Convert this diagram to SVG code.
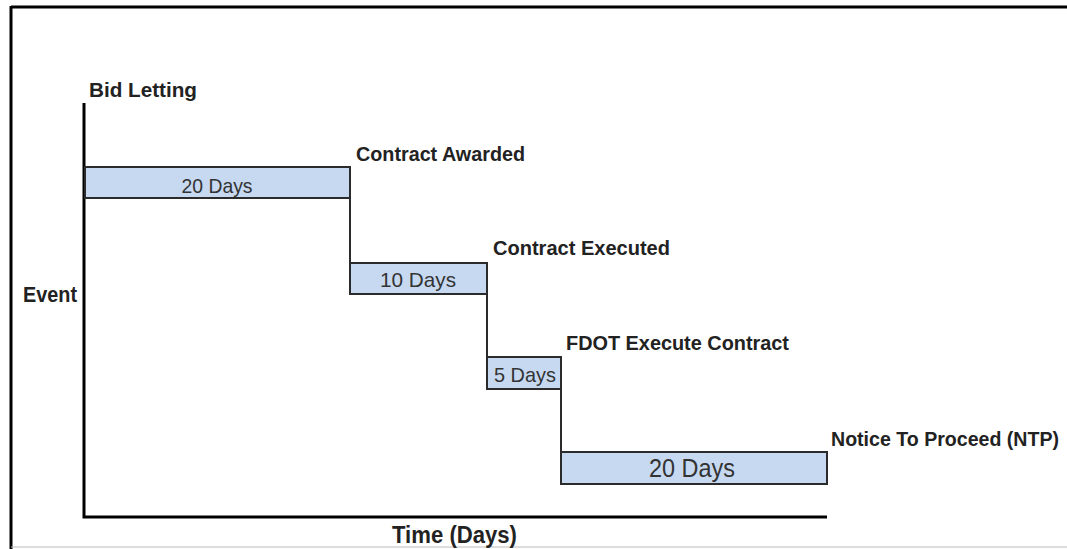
<svg xmlns="http://www.w3.org/2000/svg" width="1067" height="549" viewBox="0 0 1067 549">
<style>
.bar{fill:#c6d9f1;stroke:#2b2b2b;stroke-width:2}
.bt{font-family:"Liberation Sans",Arial,sans-serif;font-size:21px;fill:#333;text-anchor:middle}
.lbl{font-family:"Liberation Sans",Arial,sans-serif;font-size:21px;font-weight:bold;fill:#222}
.conn{stroke:#2b2b2b;stroke-width:2;fill:none}
.axis{stroke:#000;stroke-width:3;fill:none}
</style>
<rect width="1067" height="549" fill="#fff"/>
<g id="frame">
<line x1="11" y1="7" x2="1067" y2="7" stroke="#000" stroke-width="3"/>
<line x1="11" y1="6" x2="11" y2="549" stroke="#000" stroke-width="3"/>
<line x1="11" y1="547" x2="1067" y2="547" stroke="#bbb" stroke-width="1"/>
</g>
<g id="axes">
<path class="axis" d="M84,103 V517 H827"/>
<text class="lbl" x="23" y="302" style="font-size:22px" textLength="54" lengthAdjust="spacingAndGlyphs">Event</text>
<text class="lbl" x="392" y="543" style="font-size:23px" textLength="125" lengthAdjust="spacingAndGlyphs">Time (Days)</text>
</g>
<g id="connectors">
<line class="conn" x1="350" y1="198" x2="350" y2="263"/>
<line class="conn" x1="487" y1="294" x2="487" y2="357"/>
<line class="conn" x1="561" y1="389" x2="561" y2="452"/>
</g>
<g id="bid-letting">
<text class="lbl" x="89" y="97" textLength="108" lengthAdjust="spacingAndGlyphs">Bid Letting</text>
</g>
<g id="bar1">
<rect class="bar" x="85" y="167" width="265" height="31"/>
<text class="bt" x="217" y="193" textLength="71" lengthAdjust="spacingAndGlyphs">20 Days</text>
</g>
<g id="contract-awarded">
<text class="lbl" x="356" y="161" textLength="169" lengthAdjust="spacingAndGlyphs">Contract Awarded</text>
</g>
<g id="bar2">
<rect class="bar" x="350" y="263" width="137" height="31"/>
<text class="bt" x="418" y="287" textLength="76" lengthAdjust="spacingAndGlyphs">10 Days</text>
</g>
<g id="contract-executed">
<text class="lbl" x="493" y="255" textLength="177" lengthAdjust="spacingAndGlyphs">Contract Executed</text>
</g>
<g id="bar3">
<rect class="bar" x="487" y="357" width="74" height="32"/>
<text class="bt" x="525" y="382" textLength="62" lengthAdjust="spacingAndGlyphs">5 Days</text>
</g>
<g id="fdot-execute">
<text class="lbl" x="566" y="350" textLength="223" lengthAdjust="spacingAndGlyphs">FDOT Execute Contract</text>
</g>
<g id="bar4">
<rect class="bar" x="561" y="452" width="266" height="32"/>
<text class="bt" x="692" y="477" style="font-size:25px" textLength="86" lengthAdjust="spacingAndGlyphs">20 Days</text>
</g>
<g id="ntp">
<text class="lbl" x="831" y="446" style="font-size:19.5px" textLength="228" lengthAdjust="spacingAndGlyphs">Notice To Proceed (NTP)</text>
</g>
</svg>
